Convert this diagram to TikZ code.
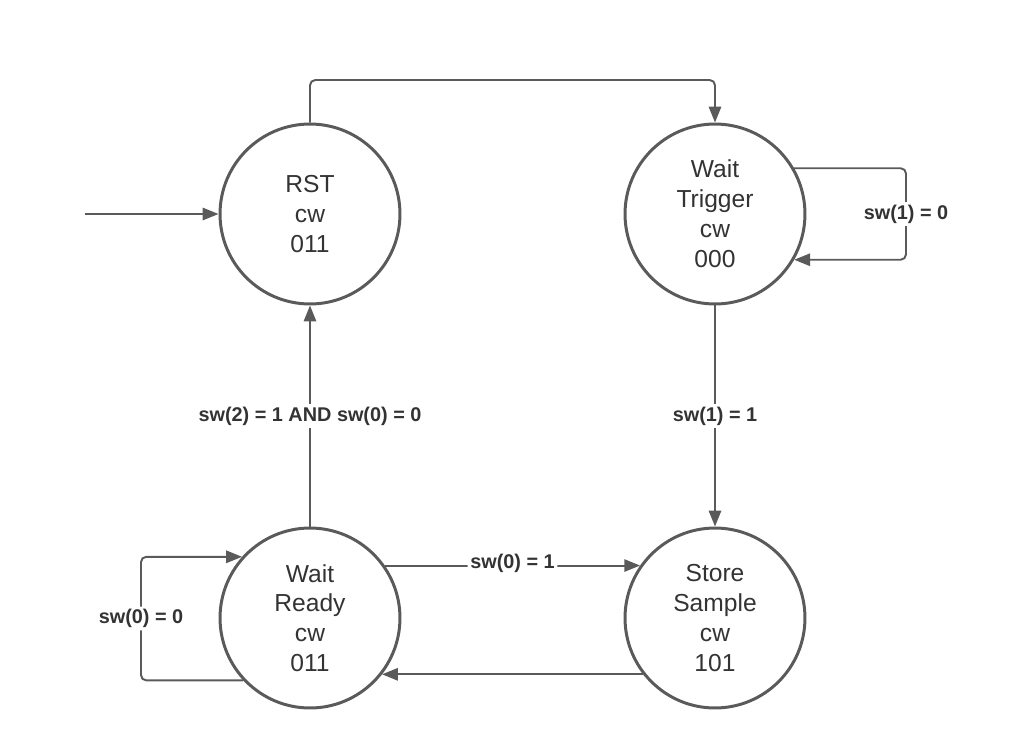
\documentclass[tikz,border=0pt]{standalone}
\usepackage{fontspec}
\setmainfont{Liberation Sans}
\usetikzlibrary{arrows.meta}

\definecolor{linegray}{HTML}{5A5A5A}
\definecolor{textgray}{HTML}{333333}

\tikzset{
  state/.style={circle, draw=linegray, line width=1.7pt, minimum size=3.6cm,
    inner sep=0pt, align=center, text=textgray,
    font=\fontsize{14pt}{17pt}\selectfont},
  trans/.style={draw=linegray, line width=1.1pt, rounded corners=3pt,
    -{Triangle[length=9pt,width=7pt]}},
  cond/.style={fill=white, text=textgray, inner sep=1.5pt,
    font=\fontsize{11.3pt}{13pt}\selectfont\bfseries},
}

\begin{document}
\begin{tikzpicture}[x=0.02cm, y=-0.02cm]
  \useasboundingbox (0,0) rectangle (1036,755);
  % Nodes
  \node[state] (rst) at (310,214) {RST\\cw\\011};
  \node[state] (trig) at (715,214) {Wait\\Trigger\\cw\\000};
  \node[state] (ready) at (310,618) {Wait\\Ready\\cw\\011};
  \node[state] (store) at (715,618) {Store\\Sample\\cw\\101};
  \coordinate (init) at (85,214);
  \coordinate (top) at (0,80);
  \coordinate (loopR) at (906,0);
  \coordinate (loopL) at (141,0);
  % Edges
  \draw[trans] (init) -- (rst.west);
  \draw[trans] (rst.north) -- (rst.north |- top) -- (trig.north |- top) -- (trig.north);
  \draw[trans] (trig.30) -- (trig.30 -| loopR)
    -- node[cond] {sw(1) = 0} (trig.-30 -| loopR) -- (trig.-30);
  \draw[trans] (trig.south) -- node[cond] {sw(1) = 1} (store.north);
  \draw[trans] (ready.north) -- node[cond] {sw(2) = 1 AND sw(0) = 0} (rst.south);
  \draw[trans] (ready.35) -- node[cond, yshift=1pt] {sw(0) = 1} (ready.35 -| store.145);
  \draw[trans] (store.-142) -- (store.-142 -| ready.-38);
  \draw[trans] (ready.-137) -- (ready.-137 -| loopL)
    -- node[cond] {sw(0) = 0} (ready.138 -| loopL) -- (ready.138);
\end{tikzpicture}
\end{document}
